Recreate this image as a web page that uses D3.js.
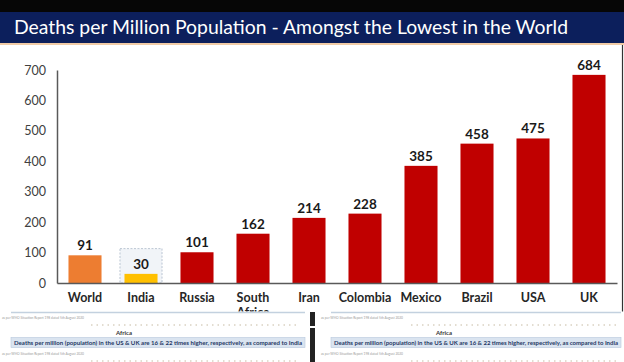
<!DOCTYPE html>
<html>
<head>
<meta charset="utf-8">
<script src="https://cdn.jsdelivr.net/npm/d3@7"></script>
<style>
  body { margin: 0; background: #fff; }
  svg { display: block; font-family: Lato, "Open Sans", sans-serif; }
</style>
</head>
<body>
<svg id="chart" width="624" height="362"></svg>
<script>
// data
const categories = ["World", "India", "Russia", "South Africa", "Iran", "Colombia", "Mexico", "Brazil", "USA", "UK"];
const deaths = [91, 30, 101, 162, 214, 228, 385, 458, 475, 684];
const yTicks = [0, 100, 200, 300, 400, 500, 600, 700];
const title = "Deaths per Million Population - Amongst the Lowest in the World";
const footNote = "as per WHO Situation Report 198 dated 5th August 2020";
const footRegion = "Africa";
const footBox = "Deaths per million (population) in the US & UK are 16 & 22 times higher, respectively, as compared to India";

const data = categories.map((c, i) => ({ name: c, value: deaths[i] }));

const svg = d3.select("#chart");
const W = 624, H = 362;
const plotLeft = 57, plotRight = 617, plotTop = 70, plotBase = 283;

// header band
svg.append("rect").attr("x", 0).attr("y", 0).attr("width", W).attr("height", 12).attr("fill", "#060606");
svg.append("rect").attr("x", 0).attr("y", 12).attr("width", W).attr("height", 31).attr("fill", "#0c1f5c");
svg.append("rect").attr("x", 0).attr("y", 43).attr("width", W).attr("height", 2).attr("fill", "#f1cba6");
svg.append("text")
    .attr("x", 14).attr("y", 34)
    .attr("fill", "#fff")
    .attr("font-size", 20)
    .attr("textLength", 554)
    .attr("lengthAdjust", "spacingAndGlyphs")
    .text(title);
svg.append("line")
    .attr("x1", 622.5).attr("x2", 622.5).attr("y1", 45).attr("y2", 312)
    .attr("stroke", "#333").attr("stroke-width", 1.2);

let x = d3.scaleBand()
  .domain(categories)
  .range([plotLeft, plotRight])
  .paddingInner(0.41)
  .paddingOuter(0.205);

let y = d3.scaleLinear().domain([0, 700]).range([plotBase, plotTop]);

const barColor = d => d === "World" ? "#ed7d31" : d === "India" ? "#ffc000" : "#c00000";

// highlight box behind India
const pad = 4.5;
svg.append("rect")
    .attr("x", x("India") - pad)
    .attr("y", y(113))
    .attr("width", x.bandwidth() + 2 * pad)
    .attr("height", plotBase - y(113))
    .attr("fill", "#f1f4f8")
    .attr("stroke", "#a9b7c8")
    .attr("stroke-width", 0.8)
    .attr("stroke-dasharray", "2,1.5");

// y axis
const gy = svg.append("g")
    .attr("transform", `translate(${plotLeft},0)`)
    .call(d3.axisLeft(y).tickValues(yTicks).tickSize(0).tickSizeOuter(0).tickPadding(11).tickFormat(d3.format("d")));
gy.select(".domain").attr("stroke", "#595959").attr("stroke-width", 1.5);
gy.selectAll("text").attr("fill", "#404040").attr("font-size", 12.5).attr("font-family", "Lato, sans-serif");

// bars
svg.append("g").selectAll("rect")
  .data(data)
  .join("rect")
    .attr("x", d => x(d.name))
    .attr("y", d => y(d.value))
    .attr("width", x.bandwidth())
    .attr("height", d => plotBase - y(d.value))
    .attr("fill", d => barColor(d.name));

// value labels
svg.append("g").selectAll("text")
  .data(data)
  .join("text")
    .attr("x", d => x(d.name) + x.bandwidth() / 2)
    .attr("y", d => y(d.value) - 5)
    .attr("text-anchor", "middle")
    .attr("font-size", 13.5)
    .attr("font-weight", "bold")
    .attr("fill", "#1a1a1a")
    .text(d => d.value);

// x axis
const gx = svg.append("g")
    .attr("transform", `translate(0,${plotBase})`)
    .call(d3.axisBottom(x).tickSize(0).tickSizeOuter(0).tickPadding(10));
gx.select(".domain").attr("stroke", "#595959").attr("stroke-width", 1.5);
gx.selectAll("text")
    .attr("fill", "#262626")
    .attr("font-size", 12.5)
    .attr("font-weight", "bold")
    .attr("font-family", "Lato, sans-serif")
    .each(function(d) {
      const words = d.split(" ");
      if (words.length < 2) return;
      const t = d3.select(this).text(null);
      words.forEach((w, i) => {
        t.append("tspan").attr("x", 0).attr("dy", i === 0 ? "0.71em" : "1.2em").text(w);
      });
    });

// pasted strip at the bottom of the slide
svg.append("rect").attr("x", 0).attr("y", 311.5).attr("width", W).attr("height", H - 311.5).attr("fill", "#fff");

function panel(x0, x1, noteX) {
  const g = svg.append("g");
  g.append("line").attr("x1", x0).attr("x2", x1).attr("y1", 312.5).attr("y2", 312.5)
    .attr("stroke", "#c3d1df").attr("stroke-width", 1.5);
  [319, 355].forEach(ty => {
    g.append("text").attr("x", noteX).attr("y", ty)
      .attr("font-size", 3.4).attr("fill", "#9a9a9a")
      .attr("textLength", 82).attr("lengthAdjust", "spacingAndGlyphs")
      .text(footNote);
    g.append("line").attr("x1", x0 + 80).attr("x2", x1 - 5).attr("y1", ty + 6).attr("y2", ty + 6)
      .attr("stroke", "#b8a88c").attr("stroke-width", 0.8).attr("stroke-dasharray", "1.5,4");
  });
  g.append("text").attr("x", x0 + 113).attr("y", 334.5)
    .attr("font-size", 6).attr("font-weight", "bold").attr("fill", "#333")
    .attr("text-anchor", "middle").text(footRegion);
  g.append("rect").attr("x", x0).attr("y", 337.5).attr("width", x1 - x0).attr("height", 10)
    .attr("fill", "#dae4f0").attr("stroke", "#b7c8dc").attr("stroke-width", 0.6);
  g.append("text").attr("x", x0 + 3).attr("y", 344.8)
    .attr("font-size", 5.4).attr("font-weight", "bold").attr("fill", "#1f3864")
    .attr("textLength", x1 - x0 - 6).attr("lengthAdjust", "spacingAndGlyphs")
    .text(footBox);
}
panel(11, 305, 2);
panel(331, 621, 321);

svg.append("rect").attr("x", 310).attr("y", 312).attr("width", 5).attr("height", 14).attr("fill", "#222");
svg.append("rect").attr("x", 310).attr("y", 328).attr("width", 5).attr("height", 34).attr("fill", "#222");
</script>
</body>
</html>
